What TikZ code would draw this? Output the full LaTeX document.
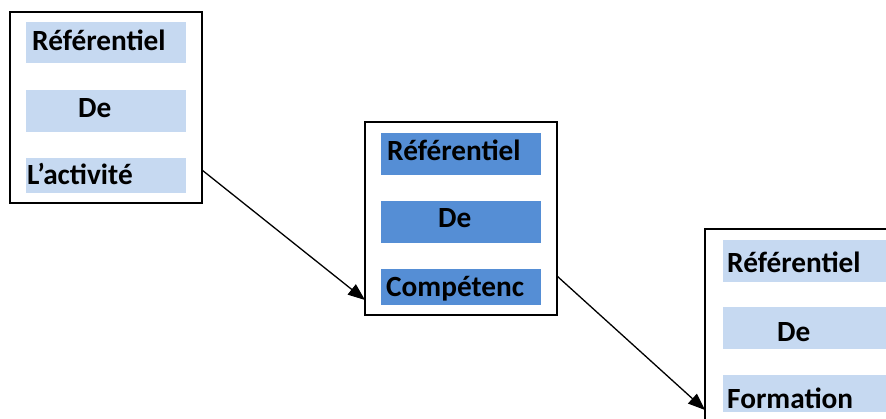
\documentclass[tikz,border=0pt]{standalone}
\usepackage{fontspec}
\setmainfont{Carlito}
\usetikzlibrary{arrows.meta}
\definecolor{lightbar}{HTML}{C6D9F1}
\definecolor{darkbar}{HTML}{558ED5}
\tikzset{
  frame/.style={draw=black, line width=2pt, fill=white, anchor=north west, inner sep=0pt, outer sep=0pt},
  bar/.style={anchor=north west, inner sep=0pt, outer sep=0pt, minimum width=160pt},
  label/.style={anchor=base west, inner sep=0pt, font=\fontsize{29.3}{32}\selectfont\bfseries},
  arr/.style={draw=black, line width=1.3pt, -{Triangle[length=17pt,width=13pt]}}
}
\begin{document}
\begin{tikzpicture}[x=1pt,y=-1pt]
\useasboundingbox (0,0) rectangle (886,419);
\begin{scope}
\clip (0,0) rectangle (886,419);
% box 1
\node[frame, minimum width=192pt, minimum height=191pt] (b1) at (10,12) {};
\node[bar, fill=lightbar, minimum height=41pt] (b1r1) at (26,22) {};
\node[bar, fill=lightbar, minimum height=42pt] (b1r2) at (26,90) {};
\node[bar, fill=lightbar, minimum height=35pt] (b1r3) at (26,158) {};
\node[label] (t11) at (32,51) {Référentiel};
\node[label] (t12) at (78,118) {De};
\node[label] (t13) at (27,185) {L’activité};
% box 2
\node[frame, minimum width=192pt, minimum height=193pt] (b2) at (365,122) {};
\node[bar, fill=darkbar, minimum height=42pt] (b2r1) at (381,133) {};
\node[bar, fill=darkbar, minimum height=42pt] (b2r2) at (381,201) {};
\node[bar, fill=darkbar, minimum height=36pt] (b2r3) at (381,269) {};
\node[label] (t21) at (387,161) {Référentiel};
\node[label] (t22) at (438,228) {De};
\node[label] (t23) at (386,297) {Compétenc};
% box 3
\node[frame, minimum width=200pt, minimum height=210pt] (b3) at (705,229) {};
\node[bar, fill=lightbar, minimum width=200pt, minimum height=42pt] (b3r1) at (723,240) {};
\node[bar, fill=lightbar, minimum width=200pt, minimum height=42pt] (b3r2) at (723,307) {};
\node[bar, fill=lightbar, minimum width=200pt, minimum height=37pt] (b3r3) at (723,375) {};
\node[label] (t31) at (727,273) {Référentiel};
\node[label] (t32) at (777,342) {De};
\node[label] (t33) at (727,408) {Formation};
\end{scope}
% arrows
\draw[arr] ([yshift=33pt]b1.south east) -- ([yshift=15pt]b2.south west);
\draw[arr] ([yshift=39pt]b2.south east) -- ([yshift=-181pt]b3.north west);
\end{tikzpicture}
\end{document}
